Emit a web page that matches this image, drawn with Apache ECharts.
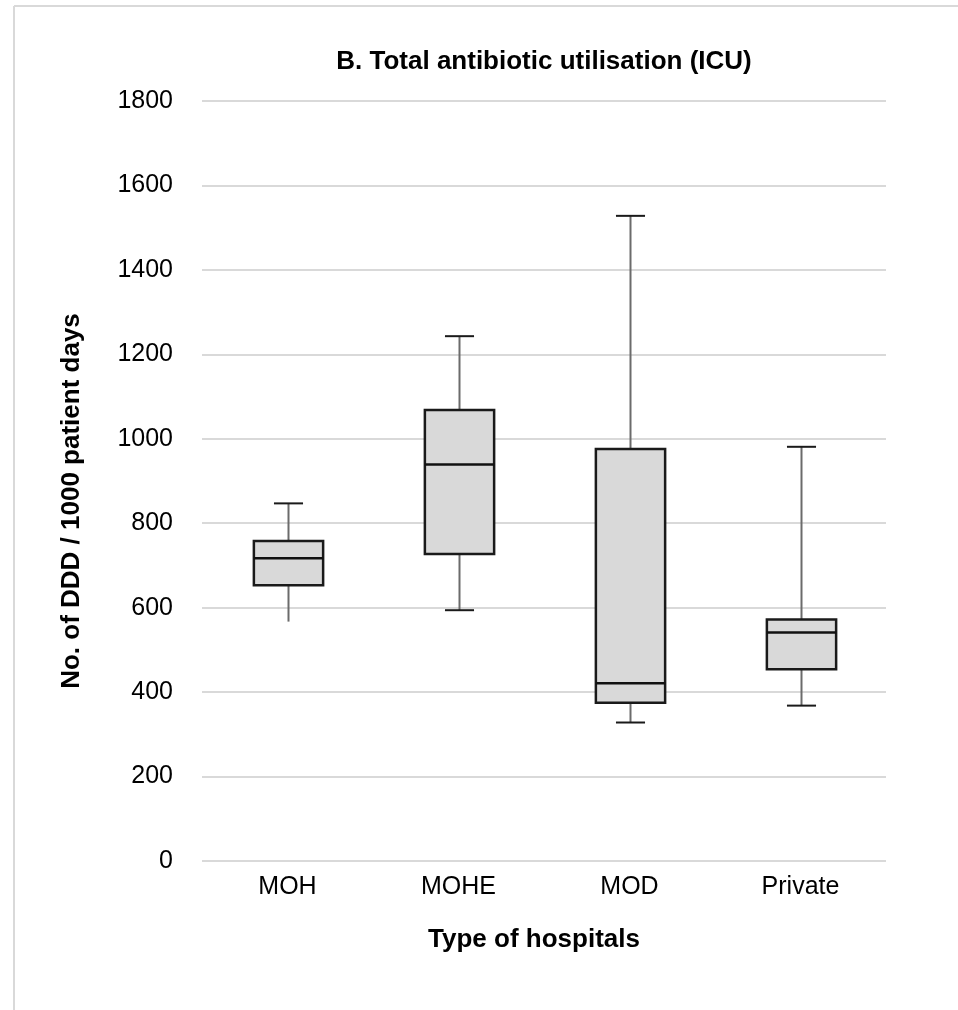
<!DOCTYPE html>
<html>
<head>
<meta charset="utf-8">
<style>
  html, body { margin: 0; padding: 0; background: #ffffff; }
  #chart { width: 958px; height: 1010px; }
</style>
<script src="https://cdn.jsdelivr.net/npm/echarts@6/dist/echarts.min.js"></script>
</head>
<body>
<div id="chart"></div>
<script>
// Hospital types on the category axis
const categories = ['MOH', 'MOHE', 'MOD', 'Private'];

// Five-number summaries (DDD / 1000 patient days)
const whiskerLow  = [567, 594, 328, 368];
const quartile1   = [653, 727, 375, 454];
const medians     = [717, 939, 421, 541];
const quartile3   = [758, 1068, 976, 572];
const whiskerHigh = [847, 1243, 1528, 981];

// Value axis ticks
const yTicks = [0, 200, 400, 600, 800, 1000, 1200, 1400, 1600, 1800];

const FONT = "'Liberation Sans Narrow', 'Arial Narrow', 'Liberation Sans', Arial, sans-serif";

const boxData = categories.map((c, i) => [i, whiskerLow[i], quartile1[i], medians[i], quartile3[i], whiskerHigh[i]]);

function renderBox(params, api) {
  const i = api.value(0);
  const lo = api.coord([i, api.value(1)]);
  const q1 = api.coord([i, api.value(2)]);
  const md = api.coord([i, api.value(3)]);
  const q3 = api.coord([i, api.value(4)]);
  const hi = api.coord([i, api.value(5)]);
  const band = api.size([1, 0])[0];
  const cx = Math.round(lo[0]) + 0.5;
  const bw = band * 0.405;
  const cw = band * 0.17;
  const whisker = { stroke: '#6b6b6b', lineWidth: 2 };
  const dark = { stroke: '#1a1a1a', lineWidth: 2 };
  const children = [
    { type: 'line', shape: { x1: cx, y1: q3[1], x2: cx, y2: hi[1] }, style: whisker },
    { type: 'line', shape: { x1: cx, y1: q1[1], x2: cx, y2: lo[1] }, style: whisker },
    { type: 'rect', shape: { x: cx - bw / 2, y: q3[1], width: bw, height: q1[1] - q3[1] },
      style: { fill: '#d9d9d9', stroke: '#1a1a1a', lineWidth: 2.5 } },
    { type: 'line', shape: { x1: cx - bw / 2, y1: md[1], x2: cx + bw / 2, y2: md[1] }, style: { stroke: '#111', lineWidth: 2.5 } },
    { type: 'line', shape: { x1: cx - cw / 2, y1: hi[1], x2: cx + cw / 2, y2: hi[1] }, style: dark }
  ];
  // the MOH group has no end cap on its lower whisker
  if (categories[i] !== 'MOH') {
    children.push({ type: 'line', shape: { x1: cx - cw / 2, y1: lo[1], x2: cx + cw / 2, y2: lo[1] }, style: dark });
  }
  return { type: 'group', children };
}

const chart = echarts.init(document.getElementById('chart'), null, { renderer: 'canvas' });
chart.setOption({
  backgroundColor: '#ffffff',
  animation: false,
  graphic: [
    // light frame along the top and left edges
    { type: 'line', shape: { x1: 14, y1: 6, x2: 958, y2: 6 }, style: { stroke: '#d9d9d9', lineWidth: 2 } },
    { type: 'line', shape: { x1: 14, y1: 6, x2: 14, y2: 1010 }, style: { stroke: '#d9d9d9', lineWidth: 2 } }
  ],
  title: {
    text: 'B. Total antibiotic utilisation (ICU)',
    left: 539,
    top: 44,
    textAlign: 'center',
    textStyle: { fontFamily: FONT, fontSize: 26, fontWeight: 'bold', color: '#000' }
  },
  grid: { left: 202, right: 72, top: 101, bottom: 149, containLabel: false },
  xAxis: {
    type: 'category',
    data: categories,
    axisLine: { show: false },
    axisTick: { show: false },
    axisLabel: { fontFamily: FONT, fontSize: 25, color: '#000', margin: 14 },
    name: 'Type of hospitals',
    nameLocation: 'middle',
    nameGap: 66,
    nameTextStyle: { fontFamily: FONT, fontSize: 26, fontWeight: 'bold', color: '#000', padding: [0, 20, 0, 0] }
  },
  yAxis: {
    type: 'value',
    min: yTicks[0],
    max: yTicks[yTicks.length - 1],
    interval: yTicks[1] - yTicks[0],
    axisLine: { show: false },
    axisTick: { show: false },
    splitLine: { lineStyle: { color: '#d9d9d9', width: 2 } },
    axisLabel: { fontFamily: FONT, fontSize: 25, color: '#000', margin: 29, formatter: v => String(v) },
    name: 'No. of DDD / 1000 patient days',
    nameLocation: 'middle',
    nameGap: 117,
    nameRotate: 90,
    nameTextStyle: { fontFamily: FONT, fontSize: 26, fontWeight: 'bold', color: '#000', padding: [0, 40, 0, 0] }
  },
  series: [{
    type: 'custom',
    renderItem: renderBox,
    data: boxData,
    encode: { x: 0, y: [1, 2, 3, 4, 5] }
  }]
});
</script>
</body>
</html>
